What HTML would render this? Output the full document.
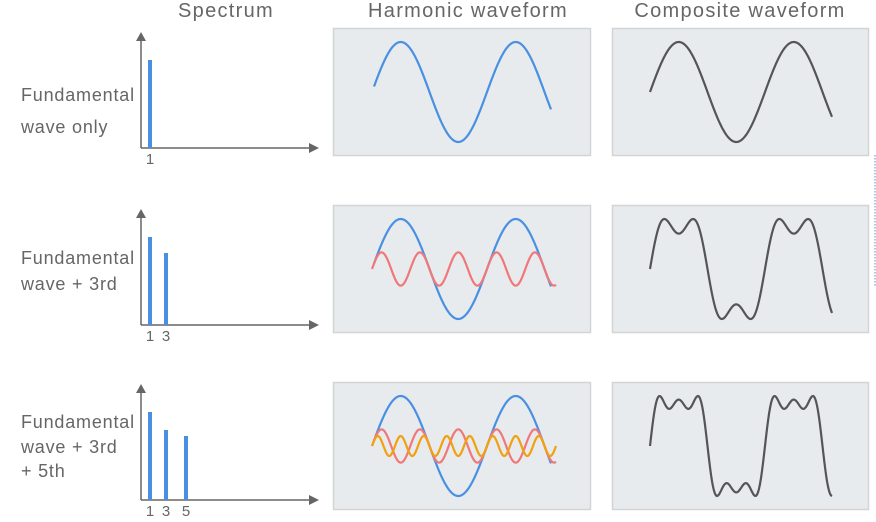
<!DOCTYPE html>
<html><head><meta charset="utf-8">
<style>
html,body{margin:0;padding:0;background:#fff;}
body{width:876px;height:522px;overflow:hidden;font-family:"Liberation Sans",sans-serif;}
svg{display:block;}
</style></head>
<body>
<svg id="chart" width="876" height="522" viewBox="0 0 876 522" xmlns="http://www.w3.org/2000/svg">
  <g font-family="Liberation Sans, sans-serif" fill="#666" font-size="20" letter-spacing="1.3">
    <text x="226" y="17" text-anchor="middle">Spectrum</text>
    <text x="468" y="17" text-anchor="middle">Harmonic waveform</text>
    <text x="740" y="17" text-anchor="middle">Composite waveform</text>
  </g>
  <line x1="875" y1="155" x2="875" y2="287" stroke="#8fb4e0" stroke-width="1.5" stroke-dasharray="1.5,1.5"/>
  <g id="rows"></g>
</svg>
<script>
// Chart data
const rowLabels = [["Fundamental","wave only"],["Fundamental","wave + 3rd"],["Fundamental","wave + 3rd","+ 5th"]];
const harmonicOrders = [[1],[1,3],[1,3,5]];
const spectrumValues = [[88],[88,72],[88,70,64]];
const harmonicAmps = [1, 1/3, 1/5];

const NS = "http://www.w3.org/2000/svg";
const rowsG = document.getElementById('rows');
const rowTop = [28, 205, 382];
const baselines = [148, 325, 500];
const barX = {1:150, 3:166, 5:186};
const colors = {1:"#4a90e2", 3:"#f07878", 5:"#f0a010"};
function mk(tag, attrs){ const e=document.createElementNS(NS,tag); for(const k in attrs) e.setAttribute(k,attrs[k]); return e; }

const period = 115, amp = 50;
function wavePath(x0, xs, xe, fn, mid){
  let d="";
  for(let x=xs;x<=xe;x+=1){ const t=2*Math.PI*(x-x0)/period; const y=mid-amp*fn(t); d+=(x===xs?"M":"L")+x.toFixed(1)+","+y.toFixed(2); }
  return d;
}

rowLabels.forEach((lines, r)=>{
  const g = mk('g',{});
  
  
  rowsG.appendChild(g);
  const lineY = r===0 ? [101,133] : r===1 ? [264,290] : [428,453,477];
  lines.forEach((s,i)=>{
    const t = mk('text',{x:21,y:lineY[i],'font-size':18,'letter-spacing':0.8,fill:'#666'});
    
    
    t.textContent=s; g.appendChild(t);
  });
  const base = baselines[r], top = base-116;
  const ax = mk('path',{d:`M141,${base} L141,${top+8} M141,${base} L310,${base}`,stroke:'#666','stroke-width':1.5,fill:'none'});
  
  
  g.appendChild(ax);
  const a1 = mk('path',{d:`M136,${top+9} L141,${top} L146,${top+9} Z`,fill:'#666'});
  
  
  g.appendChild(a1);
  const a2 = mk('path',{d:`M309,${base-5} L319,${base} L309,${base+5} Z`,fill:'#666'});
  
  
  g.appendChild(a2);
  harmonicOrders[r].forEach((h,i)=>{
    const v = spectrumValues[r][i];
    const b = mk('rect',{x:barX[h]-2,y:base-v,width:4,height:v,fill:'#4a90e2'});
    
    
    g.appendChild(b);
    const t = mk('text',{x:barX[h],y:base+16,'font-size':15,fill:'#666','text-anchor':'middle'});
    
    
    t.textContent=String(h); g.appendChild(t);
  });
  const pt = rowTop[r];
  const p1 = mk('rect',{x:333.5,y:pt+0.5,width:257,height:127,fill:'#e8ebee',stroke:'#d2d4d6','stroke-width':1.5});
  
  
  g.appendChild(p1);
  const p2 = mk('rect',{x:612.5,y:pt+0.5,width:256,height:127,fill:'#e8ebee',stroke:'#d2d4d6','stroke-width':1.5});
  
  
  g.appendChild(p2);
  const mid = pt+64;
  harmonicOrders[r].forEach((h,i)=>{
    const a = harmonicAmps[i];
    const xs = h===1 ? 374 : 372, xe = h===1 ? 551 : 556;
    const p = mk('path',{d:wavePath(372,xs,xe,t=>a*Math.sin(h*t),mid),stroke:colors[h],'stroke-width':2.2,fill:'none'});
    
    
    g.appendChild(p);
  });
  const orders = harmonicOrders[r];
  const fn = t=>orders.reduce((s,h,i)=>s+harmonicAmps[i]*Math.sin(h*t),0);
  let mx=0; for(let t=0;t<Math.PI;t+=0.01) mx=Math.max(mx,fn(t));
  const c = mk('path',{d:wavePath(650,650,832,t=>fn(t)/mx,mid),stroke:'#555','stroke-width':2.2,fill:'none'});
  
  
  g.appendChild(c);
});
</script>
</body></html>
